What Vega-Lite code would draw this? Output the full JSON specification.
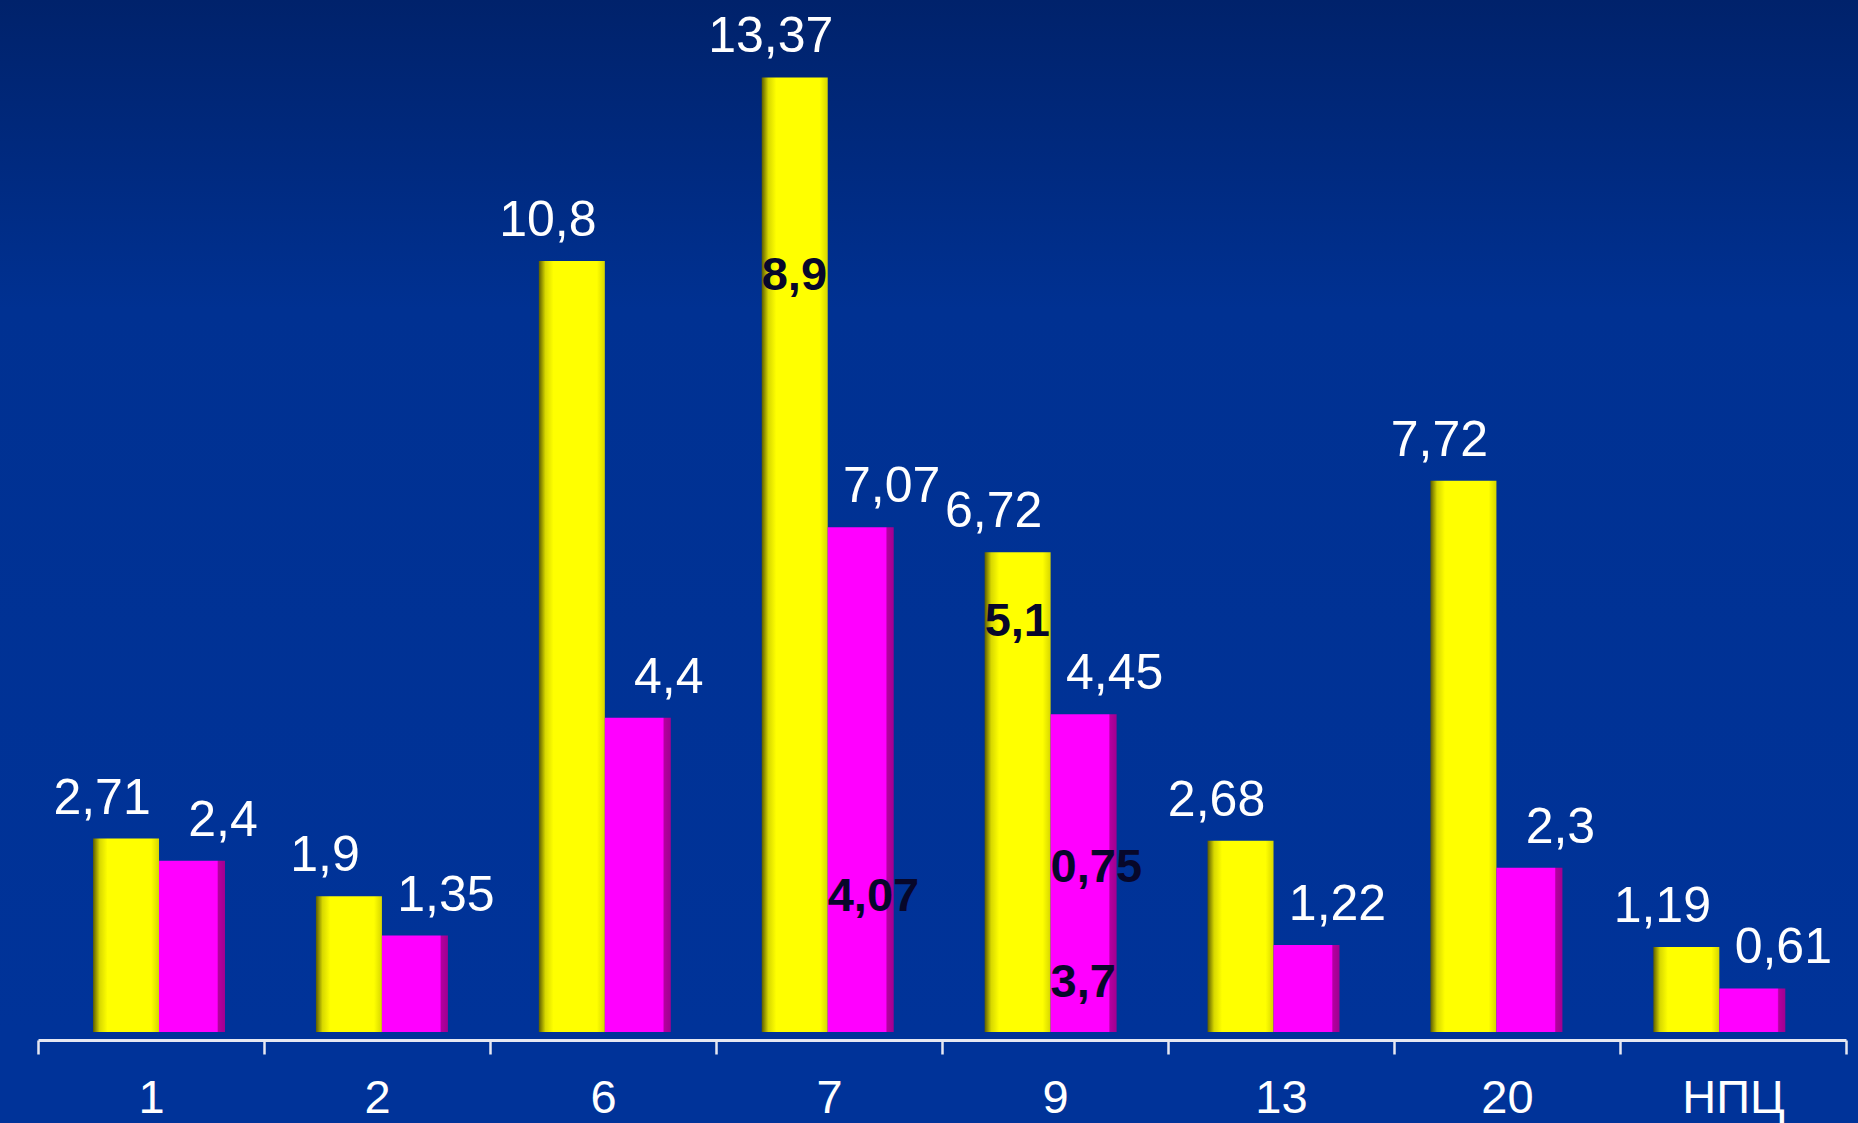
{
  "$schema": "https://vega.github.io/schema/vega-lite/v6.json",
  "width": 1858,
  "height": 1032,
  "autosize": {"type": "none"},
  "padding": {"left": 0, "top": 0, "right": 0, "bottom": 91},
  "background": "#003399",
  "config": {
    "view": {
      "stroke": null,
      "fill": {
        "gradient": "linear",
        "x1": 0, "y1": 0, "x2": 0, "y2": 1,
        "stops": [
          {"offset": 0, "color": "#00226b"},
          {"offset": 0.3, "color": "#003192"},
          {"offset": 1, "color": "#003399"}
        ]
      }
    },
    "locale": {
      "number": {"decimal": ",", "thousands": " ", "grouping": [3], "currency": ["", ""]}
    }
  },
  "datasets": {
    "bars": [
      {"c": "1", "s": "A", "v": 2.71},
      {"c": "1", "s": "B", "v": 2.4},
      {"c": "2", "s": "A", "v": 1.9},
      {"c": "2", "s": "B", "v": 1.35},
      {"c": "6", "s": "A", "v": 10.8},
      {"c": "6", "s": "B", "v": 4.4},
      {"c": "7", "s": "A", "v": 13.37},
      {"c": "7", "s": "B", "v": 7.07},
      {"c": "9", "s": "A", "v": 6.72},
      {"c": "9", "s": "B", "v": 4.45},
      {"c": "13", "s": "A", "v": 2.68},
      {"c": "13", "s": "B", "v": 1.22},
      {"c": "20", "s": "A", "v": 7.72},
      {"c": "20", "s": "B", "v": 2.3},
      {"c": "НПЦ", "s": "A", "v": 1.19},
      {"c": "НПЦ", "s": "B", "v": 0.61}
    ],
    "notes": [
      {"c": "7", "s": "A", "t": "8,9", "pos": 10.59},
      {"c": "7", "s": "B", "t": "4,07", "pos": 1.89},
      {"c": "9", "s": "A", "t": "5,1", "pos": 5.74},
      {"c": "9", "s": "B", "t": "0,75", "pos": 2.29},
      {"c": "9", "s": "B", "t": "3,7", "pos": 0.68}
    ]
  },
  "resolve": {"scale": {"x": "independent"}},
  "layer": [
    {
      "data": {"name": "bars"},
      "mark": {"type": "text", "opacity": 0},
      "encoding": {
        "x": {
          "field": "c",
          "type": "nominal",
          "sort": ["1", "2", "6", "7", "9", "13", "20", "НПЦ"],
          "scale": {"range": [38, 1846], "paddingInner": 0, "paddingOuter": 0},
          "axis": {
            "title": null,
            "labelAngle": 0,
            "labelFont": "Liberation Sans",
            "labelFontSize": 47,
            "labelColor": "#ffffff",
            "labelPadding": 21,
            "tickBand": "extent",
            "tickSize": 14,
            "tickWidth": 2.5,
            "tickColor": "#e6e8f2",
            "domainColor": "#e6e8f2",
            "domainWidth": 3,
            "offset": 8
          }
        },
        "text": {"value": ""}
      }
    },
    {
      "encoding": {
        "x": {
          "field": "c",
          "type": "nominal",
          "sort": ["1", "2", "6", "7", "9", "13", "20", "НПЦ"],
          "scale": {"paddingInner": 0, "paddingOuter": 0.1678, "align": 0.636},
          "axis": null
        },
        "xOffset": {
          "field": "s",
          "type": "nominal",
          "scale": {"domain": ["A", "B"], "paddingInner": 0, "paddingOuter": 0.689}
        }
      },
      "layer": [
        {
          "data": {"name": "bars"},
          "mark": {"type": "bar"},
          "encoding": {
            "y": {"field": "v", "type": "quantitative", "scale": {"domain": [0, 14.4538], "nice": false}, "axis": null},
            "color": {
              "condition": {
                "test": "datum.s === 'A'",
                "value": {
                  "gradient": "linear", "x1": 0, "y1": 0, "x2": 1, "y2": 0,
                  "stops": [
                    {"offset": 0, "color": "#5c5c00"},
                    {"offset": 0.1, "color": "#d8d800"},
                    {"offset": 0.22, "color": "#ffff00"},
                    {"offset": 0.88, "color": "#ffff00"},
                    {"offset": 1, "color": "#d6d600"}
                  ]
                }
              },
              "value": {
                "gradient": "linear", "x1": 0, "y1": 0, "x2": 1, "y2": 0,
                "stops": [
                  {"offset": 0, "color": "#ff00ff"},
                  {"offset": 0.88, "color": "#ff00ff"},
                  {"offset": 0.9, "color": "#b3009f"},
                  {"offset": 1, "color": "#a00090"}
                ]
              }
            }
          }
        },
        {
          "data": {"name": "bars"},
          "transform": [{"filter": "datum.s === 'A'"}],
          "mark": {"type": "text", "font": "Liberation Sans", "fontSize": 50, "color": "#ffffff", "baseline": "alphabetic", "dy": -25, "dx": -24},
          "encoding": {
            "y": {"field": "v", "type": "quantitative"},
            "text": {"field": "v", "type": "quantitative", "format": ".4~g"}
          }
        },
        {
          "data": {"name": "bars"},
          "transform": [{"filter": "datum.s === 'B'"}],
          "mark": {"type": "text", "font": "Liberation Sans", "fontSize": 50, "color": "#ffffff", "baseline": "alphabetic", "dy": -25, "dx": 31},
          "encoding": {
            "y": {"field": "v", "type": "quantitative"},
            "text": {"field": "v", "type": "quantitative", "format": ".4~g"}
          }
        },
        {
          "data": {"name": "notes"},
          "mark": {"type": "text", "font": "Liberation Sans", "fontWeight": "bold", "fontSize": 47, "color": "#07072a", "align": "left", "baseline": "middle", "dx": -33},
          "encoding": {
            "y": {"field": "pos", "type": "quantitative"},
            "text": {"field": "t", "type": "nominal"}
          }
        }
      ]
    }
  ]
}
